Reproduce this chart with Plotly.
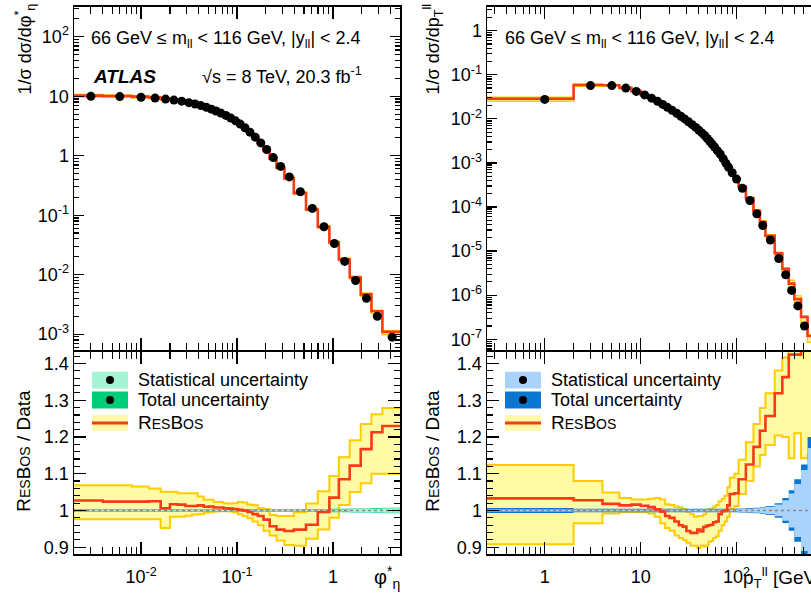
import math
import plotly.graph_objects as go

W, H = 811, 600

# ---------------- data: phi*_eta panel ----------------
phi_edges = [0.002, 0.004, 0.008, 0.012, 0.016, 0.020, 0.024, 0.029, 0.034, 0.039, 0.045,
             0.051, 0.057, 0.064, 0.072, 0.081, 0.091, 0.102, 0.114, 0.128, 0.145, 0.165,
             0.189, 0.219, 0.258, 0.312, 0.391, 0.524, 0.695, 0.918, 1.153, 1.496, 1.947,
             2.522, 3.277, 5.0]
phi_centers = [0.003, 0.006, 0.010, 0.014, 0.018, 0.022, 0.0265, 0.0315, 0.0365, 0.042, 0.048,
               0.054, 0.0605, 0.068, 0.0765, 0.086, 0.0965, 0.108, 0.121, 0.1365, 0.155, 0.177,
               0.204, 0.2385, 0.285, 0.3515, 0.4575, 0.6095, 0.8065, 1.0355, 1.3245, 1.7215,
               2.2345, 2.8995, 4.1385]
phi_data = [9.95, 9.85, 9.6, 9.3, 8.95, 8.6, 8.25, 7.8, 7.4, 6.95, 6.5, 6.05, 5.65, 5.2, 4.75,
            4.3, 3.85, 3.4, 2.95, 2.49, 2.05, 1.64, 1.27, 0.93, 0.66, 0.44, 0.248, 0.13, 0.064,
            0.0335, 0.0167, 0.0080, 0.0040, 0.0020, 0.00089]
phi_ratio = [1.027, 1.024, 1.024, 1.025, 1.006, 1.017, 1.016, 1.012, 1.012, 1.014, 1.010, 1.011,
             1.008, 1.008, 1.006, 1.005, 1.004, 1.002, 1.000, 0.996, 0.990, 0.985, 0.975, 0.957,
             0.948, 0.944, 0.948, 0.961, 0.996, 1.035, 1.085, 1.122, 1.167, 1.213, 1.230]
phi_up = [1.069, 1.069, 1.065, 1.060, 1.051, 1.051, 1.047, 1.047, 1.047, 1.038, 1.029, 1.029,
          1.023, 1.023, 1.020, 1.019, 1.020, 1.023, 1.022, 1.016, 1.014, 1.006, 1.004, 0.988,
          0.985, 0.985, 0.995, 1.019, 1.052, 1.094, 1.145, 1.191, 1.235, 1.262, 1.279]
phi_lo = [0.976, 0.976, 0.976, 0.976, 0.952, 0.983, 0.983, 0.986, 0.989, 0.990, 0.994, 0.995,
          0.997, 0.998, 0.998, 0.997, 0.995, 0.990, 0.985, 0.979, 0.970, 0.960, 0.945, 0.932,
          0.918, 0.906, 0.904, 0.923, 0.948, 0.980, 1.015, 1.050, 1.074, 1.100, 1.100]
phi_stat = [0.002] * 29 + [0.003, 0.003, 0.004, 0.004, 0.005, 0.006]
phi_tot = [0.0035] * 29 + [0.0045, 0.0045, 0.0055, 0.0055, 0.0065, 0.0075]

# ---------------- data: pT panel ----------------
pt_edges = [0.25, 2, 4, 6, 8, 10, 12, 14, 16, 18, 20, 22.5, 25, 27.5, 30, 33, 36, 39, 42, 45,
            48, 51, 54, 57, 61, 65, 70, 75, 80, 85, 95, 105, 125, 150, 175, 200, 250, 300, 350,
            400, 470, 550, 650]
pt_centers = [1, 3, 5, 7, 9, 11, 13, 15, 17, 19, 21.25, 23.75, 26.25, 28.75, 31.5, 34.5, 37.5,
              40.5, 43.5, 46.5, 49.5, 52.5, 55.5, 59, 63, 67.5, 72.5, 77.5, 82.5, 90, 100, 115,
              137.5, 162.5, 187.5, 225, 275, 325, 375, 435, 510, 600]
pt_data = [0.0277, 0.057, 0.057, 0.050, 0.042, 0.035, 0.0295, 0.025, 0.0213, 0.0183, 0.0157,
           0.0134, 0.0115, 0.0100, 0.0086, 0.0074, 0.0064, 0.0055, 0.0048, 0.0042, 0.0036,
           0.0031, 0.0027, 0.0023, 0.0019, 0.0016, 0.00125, 0.00098, 0.00080, 0.00060, 0.00043,
           0.000267, 0.000141, 7.0e-5, 3.8e-5, 1.78e-5, 6.8e-6, 2.9e-6, 1.28e-6, 5.7e-7,
           2.0e-7, 7.4e-8]
pt_ratio = [1.033, 1.028, 1.018, 1.014, 1.016, 1.013, 1.009, 1.003, 0.997, 0.985, 0.980, 0.970,
            0.960, 0.956, 0.944, 0.939, 0.939, 0.948, 0.943, 0.955, 0.958, 0.960, 0.961, 0.968,
            0.970, 0.990, 0.998, 1.000, 1.014, 1.045, 1.047, 1.085, 1.125, 1.173, 1.217, 1.257,
            1.319, 1.363, 1.424, 1.424, 1.6, 1.6]
pt_up = [1.124, 1.080, 1.049, 1.034, 1.030, 1.030, 1.032, 1.034, 1.030, 1.017, 1.015, 1.010,
         1.008, 1.004, 0.996, 0.990, 0.983, 0.985, 0.985, 0.990, 0.998, 1.005, 1.005, 1.010,
         1.015, 1.025, 1.032, 1.040, 1.063, 1.089, 1.100, 1.138, 1.186, 1.235, 1.279, 1.319,
         1.381, 1.416, 1.7, 1.7, 1.7, 1.7]
pt_lo = [0.908, 0.965, 0.992, 0.995, 0.996, 0.995, 0.992, 0.983, 0.965, 0.952, 0.945, 0.932,
         0.925, 0.920, 0.912, 0.904, 0.904, 0.897, 0.905, 0.902, 0.905, 0.915, 0.917, 0.925,
         0.930, 0.945, 0.960, 0.970, 0.983, 1.005, 1.012, 1.045, 1.080, 1.120, 1.151, 1.178,
         1.204, 1.200, 1.142, 1.210, 1.142, 1.150]
pt_stat = [0.003] * 31 + [0.004, 0.005, 0.006, 0.008, 0.010, 0.016, 0.028, 0.046, 0.072,
                          0.11, 0.17]
pt_tot = [0.007] + [0.0045] * 30 + [0.0055, 0.0065, 0.0075, 0.0095, 0.012, 0.020, 0.034,
                                     0.055, 0.085, 0.125, 0.20]

# ---------------- styling ----------------
FONT = "Liberation Sans, Arial, Helvetica, sans-serif"
RED = "#f93a14"
GOLD = "#ffcc00"
LYEL = "rgba(255,250,160,0.95)"
GREEN_STAT = "#a6f3d6"
GREEN_TOT = "#00cc77"
BLUE_STAT = "#a9d3fb"
BLUE_TOT = "#0a76d2"


def xp(p):
    return p / W


def yp(p):
    return 1 - p / H


def stepy(v):
    return list(v) + [v[-1]]


fig = go.Figure()


def add_band(edges, lo, hi, xa, ya, fill, line, lw):
    fig.add_trace(go.Scatter(x=edges, y=stepy(lo), mode="lines",
                             line=dict(shape="hv", color=line, width=lw),
                             xaxis=xa, yaxis=ya, showlegend=False, hoverinfo="skip"))
    fig.add_trace(go.Scatter(x=edges, y=stepy(hi), mode="lines",
                             line=dict(shape="hv", color=line, width=lw),
                             fill="tonexty", fillcolor=fill,
                             xaxis=xa, yaxis=ya, showlegend=False, hoverinfo="skip"))


def add_step(edges, vals, xa, ya, color, lw, dash="solid"):
    fig.add_trace(go.Scatter(x=edges, y=stepy(vals), mode="lines",
                             line=dict(shape="hv", color=color, width=lw, dash=dash),
                             xaxis=xa, yaxis=ya, showlegend=False, hoverinfo="skip"))


def panel(edges, centers, data, ratio, up, lo, stat, tot, xt, yt, xr, yr, cstat, ctot):
    add_band(edges, [d * l for d, l in zip(data, lo)], [d * u for d, u in zip(data, up)],
             xt, yt, LYEL, GOLD, 1.5)
    add_step(edges, [d * r for d, r in zip(data, ratio)], xt, yt, RED, 2.6)
    fig.add_trace(go.Scatter(x=centers, y=data, mode="markers",
                             marker=dict(color="black", size=9),
                             cliponaxis=False, xaxis=xt, yaxis=yt,
                             showlegend=False, hoverinfo="skip"))
    add_band(edges, lo, up, xr, yr, LYEL, GOLD, 2)
    add_band(edges, [1 - t for t in tot], [1 + t for t in tot], xr, yr, ctot, ctot, 0)
    add_band(edges, [1 - s for s in stat], [1 + s for s in stat], xr, yr, cstat, cstat, 0)
    add_step(edges, [1.0] * len(data), xr, yr, "#8a8a8a", 1.5, dash="dot")
    add_step(edges, ratio, xr, yr, RED, 2.6)


panel(phi_edges, phi_centers, phi_data, phi_ratio, phi_up, phi_lo, phi_stat, phi_tot,
      "x", "y", "x2", "y2", GREEN_STAT, GREEN_TOT)
panel(pt_edges, pt_centers, pt_data, pt_ratio, pt_up, pt_lo, pt_stat, pt_tot,
      "x3", "y3", "x4", "y4", BLUE_STAT, BLUE_TOT)


def decade_minors(lo_exp, hi_exp, vmin, vmax):
    out = []
    for e in range(lo_exp, hi_exp + 1):
        for k in range(2, 10):
            v = k * 10 ** e
            if vmin < v < vmax:
                out.append(v)
    return out


TICKFONT = dict(family=FONT, size=18, color="black")
L_X = [74 / W, 400 / W]
R_X = [487 / W, 1.0]
TOP_Y = [1 - 352 / H, 1 - 7 / H]
RAT_Y = [1 - 557 / H, 1 - 353.5 / H]

base_axis = dict(type="log", showline=True, linecolor="black", linewidth=1.5,
                 ticks="inside", tickcolor="black", tickwidth=1.2, showgrid=False,
                 zeroline=False, tickfont=TICKFONT)

phi_rng = [math.log10(0.002), math.log10(5.0)]
pt_rng = [math.log10(0.25), 2.776]
phi_minor = decade_minors(-3, 0, 0.002, 5.0)
pt_minor = decade_minors(-1, 2, 0.25, 600)

fig.update_layout(
    xaxis=dict(base_axis, domain=L_X, anchor="y", range=phi_rng, mirror="ticks",
               tickvals=[0.01, 0.1, 1], showticklabels=False, ticklen=12,
               minor=dict(tickvals=phi_minor, ticks="inside", ticklen=7, tickcolor="black")),
    xaxis2=dict(base_axis, domain=L_X, anchor="y2", range=phi_rng, mirror="ticks",
                tickvals=[0.01, 0.1, 1], ticklabelstandoff=6,
                ticktext=["10<sup>-2</sup>", "10<sup>-1</sup>", "1"], ticklen=12,
                minor=dict(tickvals=phi_minor, ticks="inside", ticklen=7, tickcolor="black")),
    xaxis3=dict(base_axis, domain=R_X, anchor="y3", range=pt_rng, mirror="ticks",
                tickvals=[1, 10, 100], showticklabels=False, ticklen=12,
                minor=dict(tickvals=pt_minor, ticks="inside", ticklen=7, tickcolor="black")),
    xaxis4=dict(base_axis, domain=R_X, anchor="y4", range=pt_rng, mirror="ticks",
                tickvals=[1, 10, 100], ticktext=["1", "10", "10<sup>2</sup>"], ticklen=12,
                ticklabelstandoff=6,
                minor=dict(tickvals=pt_minor, ticks="inside", ticklen=7, tickcolor="black")),
)

top_left_vals = [1e-3, 1e-2, 1e-1, 1, 10, 100]
top_left_text = ["10<sup>-3</sup>", "10<sup>-2</sup>", "10<sup>-1</sup>", "1", "10",
                 "10<sup>2</sup>"]
top_right_vals = [1e-7, 1e-6, 1e-5, 1e-4, 1e-3, 1e-2, 1e-1, 1]
top_right_text = ["10<sup>-7</sup>", "10<sup>-6</sup>", "10<sup>-5</sup>", "10<sup>-4</sup>",
                  "10<sup>-3</sup>", "10<sup>-2</sup>", "10<sup>-1</sup>", "1"]
ratio_vals = [0.9, 1.0, 1.1, 1.2, 1.3, 1.4]
ratio_text = ["0.9", "1", "1.1", "1.2", "1.3", "1.4"]
ratio_minor = [round(0.90 + 0.02 * i, 2) for i in range(27)]

lin_axis = dict(base_axis, type="linear")
fig.update_layout(
    yaxis=dict(base_axis, domain=TOP_Y, anchor="x", range=[-3.27, 2.5], mirror="ticks",
               tickvals=top_left_vals, ticktext=top_left_text, ticklen=10,
               minor=dict(tickvals=decade_minors(-4, 2, 5.4e-4, 316), ticks="inside",
                          ticklen=5, tickcolor="black")),
    yaxis2=dict(lin_axis, domain=RAT_Y, anchor="x2", range=[0.881, 1.432], mirror="ticks",
                tickvals=ratio_vals, ticktext=ratio_text, ticklen=12,
                minor=dict(tickvals=ratio_minor, ticks="inside", ticklen=6, tickcolor="black")),
    yaxis3=dict(base_axis, domain=TOP_Y, anchor="x3", range=[-7.25, 0.54], mirror=False,
                tickvals=top_right_vals, ticktext=top_right_text, ticklen=10,
                minor=dict(tickvals=decade_minors(-8, 0, 5.6e-8, 3.4), ticks="inside",
                           ticklen=5, tickcolor="black")),
    yaxis4=dict(lin_axis, domain=RAT_Y, anchor="x4", range=[0.881, 1.432], mirror=False,
                tickvals=ratio_vals, ticktext=ratio_text, ticklen=12,
                minor=dict(tickvals=ratio_minor, ticks="inside", ticklen=6, tickcolor="black")),
)

# ---------------- text ----------------
RB = "R<span style='font-size:14px'>ES</span>B<span style='font-size:14px'>OS</span>"
ann = []


def text(x, y, t, size=18, xanchor="left", yanchor="middle", angle=0, **kw):
    ann.append(dict(x=xp(x), y=yp(y), xref="paper", yref="paper", text=t, showarrow=False,
                    xanchor=xanchor, yanchor=yanchor, textangle=angle,
                    font=dict(family=FONT, size=size, color="black"), **kw))


text(25, 2, "1/σ dσ/dφ<sup>*</sup><sub>η</sub>", size=18, xanchor="center", yanchor="top",
     angle=-90)
text(433, 2, "1/σ dσ/dp<sub>T</sub><sup>ll</sup>", size=18, xanchor="center", yanchor="top",
     angle=-90)
text(24, 453, RB + " / Data", size=19, xanchor="center", angle=-90)
text(433, 453, RB + " / Data", size=19, xanchor="center", angle=-90)
text(372, 580, "φ<sup>*</sup><sub>η</sub>", size=20)
text(741, 580, "p<sub>T</sub><sup>ll</sup> [GeV]", size=19)
text(89, 40, "66 GeV ≤ m<sub>ll</sub> < 116 GeV, |y<sub>ll</sub>| < 2.4", size=18)
text(503, 40, "66 GeV ≤ m<sub>ll</sub> < 116 GeV, |y<sub>ll</sub>| < 2.4", size=18)
text(91, 77, "<b><i>ATLAS</i></b>", size=19)
text(200, 76, "√s = 8 TeV, 20.3 fb<sup>-1</sup>", size=18)

shapes = []


def legend(x0, cstat, ctot):
    x1 = x0 + 36
    rows = [(382, cstat, "Statistical uncertainty"), (402, ctot, "Total uncertainty")]
    for yc, col, label in rows:
        shapes.append(dict(type="rect", xref="paper", yref="paper", x0=xp(x0), x1=xp(x1),
                           y0=yp(yc + 8.5), y1=yp(yc - 8.5), fillcolor=col, line=dict(width=0),
                           layer="above"))
        cx = (x0 + x1) / 2
        shapes.append(dict(type="circle", xref="paper", yref="paper", x0=xp(cx - 4),
                           x1=xp(cx + 4), y0=yp(yc + 4), y1=yp(yc - 4), fillcolor="black",
                           line=dict(width=0), layer="above"))
        text(x1 + 8, yc, label, size=18)
    yc = 425
    shapes.append(dict(type="rect", xref="paper", yref="paper", x0=xp(x0), x1=xp(x1),
                       y0=yp(yc + 8), y1=yp(yc - 8), fillcolor="#fff9a8", line=dict(width=0),
                       layer="above"))
    shapes.append(dict(type="line", xref="paper", yref="paper", x0=xp(x0), x1=xp(x1),
                       y0=yp(yc), y1=yp(yc), line=dict(color=RED, width=3), layer="above"))
    text(x1 + 8, yc, RB, size=19)


legend(92, GREEN_STAT, GREEN_TOT)
legend(505, BLUE_STAT, BLUE_TOT)

fig.update_layout(width=W, height=H, margin=dict(l=0, r=0, t=0, b=0),
                  paper_bgcolor="white", plot_bgcolor="white", showlegend=False,
                  hovermode=False,
                  annotations=ann, shapes=shapes, font=dict(family=FONT, color="black"))

fig.write_html("out.html", config={"displayModeBar": False, "staticPlot": True},
               post_script="document.body.style.margin='0px';document.body.style.overflow='hidden';")
